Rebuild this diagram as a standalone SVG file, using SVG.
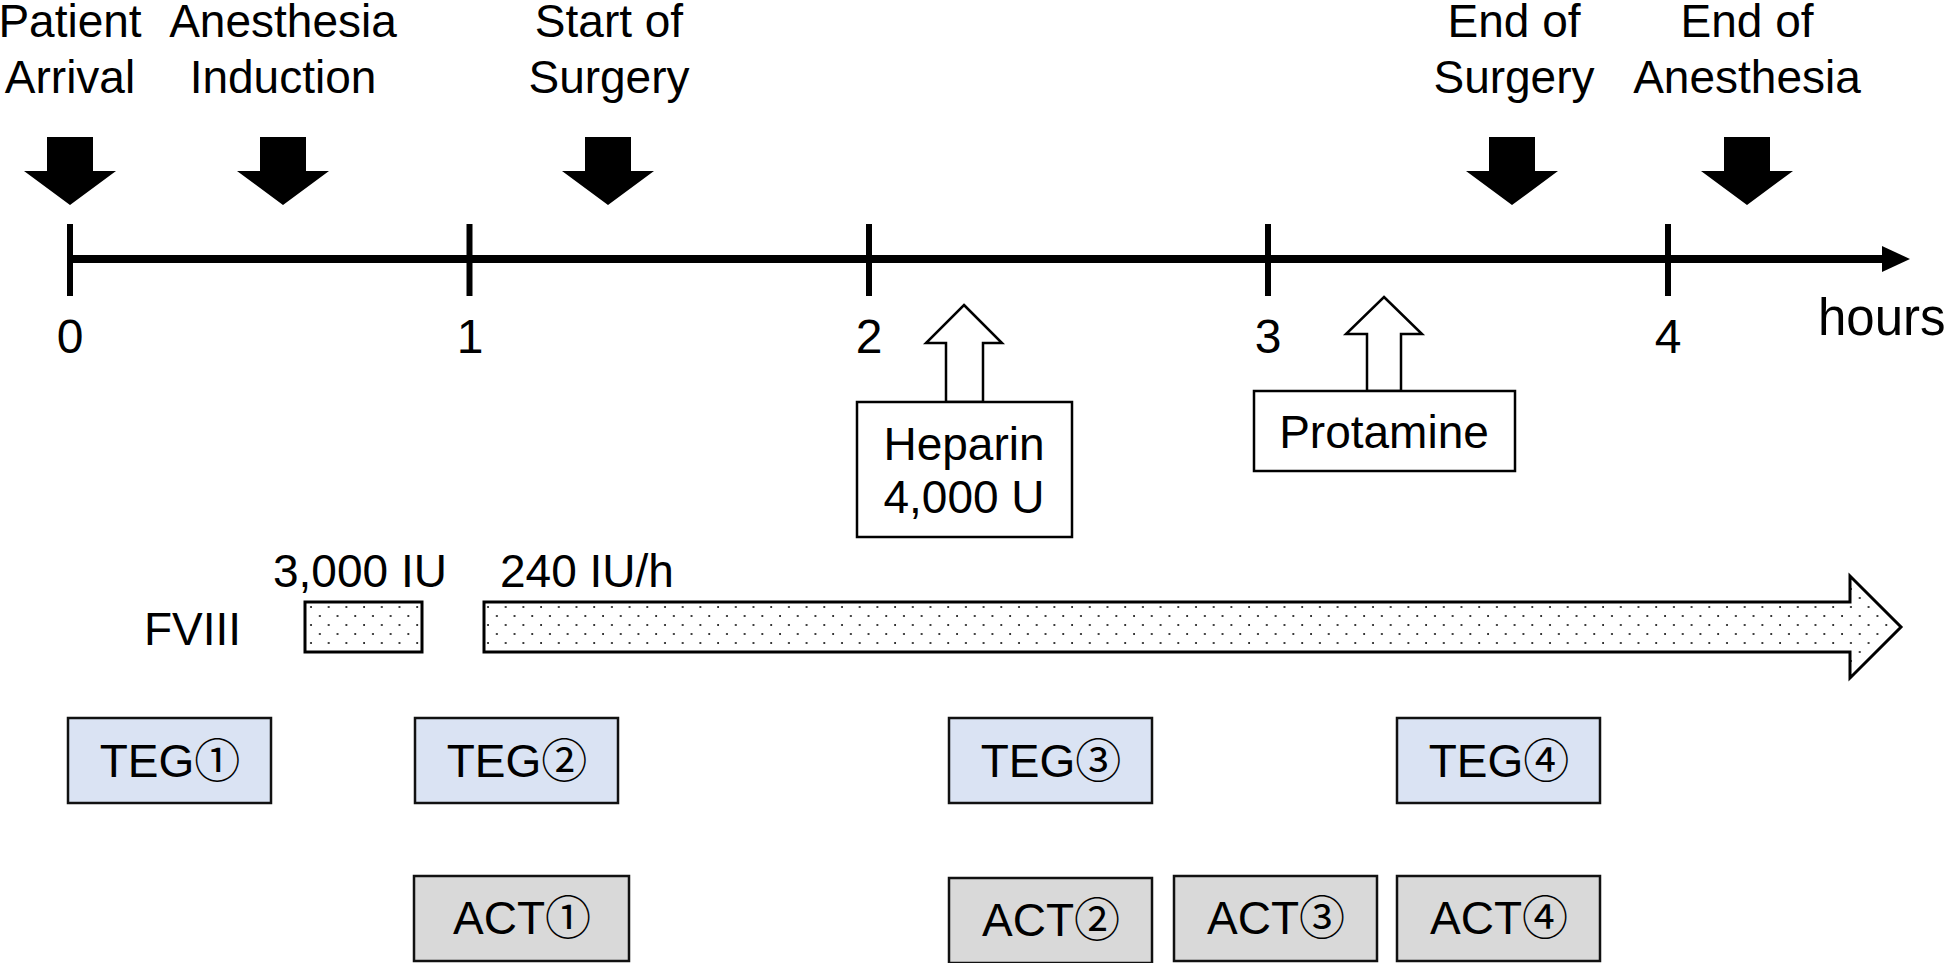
<svg xmlns="http://www.w3.org/2000/svg" width="1946" height="963" viewBox="0 0 1946 963">
<style>
text{font-family:"Liberation Sans",Arial,"Noto Sans CJK JP",sans-serif;fill:#000;font-size:46px}
.c{text-anchor:middle}
.tk{font-size:48px;text-anchor:middle}
.cj{font-family:"Noto Sans CJK JP","Noto Sans CJK SC",sans-serif}
.blk{fill:#000}
.open{fill:#fff;stroke:#000;stroke-width:2.5}
.box{fill:#fff;stroke:#000;stroke-width:2.5}
.teg{fill:#dae3f3;stroke:#111;stroke-width:2.5}
.act{fill:#d9d9d9;stroke:#111;stroke-width:2.5}
.dot{fill:url(#dots);stroke:#000;stroke-width:3}
</style>
<defs>
<pattern id="dots" patternUnits="userSpaceOnUse" x="484" y="602" width="17.7" height="18">
<rect width="17.7" height="18" fill="#fff"/>
<circle cx="4" cy="5" r="1" fill="#000"/>
<circle cx="12.85" cy="14" r="1" fill="#000"/>
</pattern>
<polygon id="darr" points="-23,137 23,137 23,171 46,171 0,205 -46,171 -23,171"/>
</defs>

<g id="timeline">
<line x1="70" y1="259" x2="1885" y2="259" stroke="#000" stroke-width="8"/>
<polygon points="1882,246 1910,259 1882,272" fill="#000"/>
<g stroke="#000" stroke-width="6">
<line x1="70" y1="224" x2="70" y2="296"/>
<line x1="469.5" y1="224" x2="469.5" y2="296"/>
<line x1="869" y1="224" x2="869" y2="296"/>
<line x1="1268" y1="224" x2="1268" y2="296"/>
<line x1="1668" y1="224" x2="1668" y2="296"/>
</g>
<text class="tk" x="70" y="353">0</text>
<text class="tk" x="470" y="353">1</text>
<text class="tk" x="869" y="353">2</text>
<text class="tk" x="1268" y="353">3</text>
<text class="tk" x="1668" y="353">4</text>
<text x="1818" y="335" style="font-size:51px">hours</text>
</g>

<g id="patient-arrival">
<text class="c" x="70" y="37">Patient</text>
<text class="c" x="70" y="93">Arrival</text>
<use href="#darr" x="70" class="blk"/>
</g>
<g id="anesthesia-induction">
<text class="c" x="283" y="37">Anesthesia</text>
<text class="c" x="283" y="93">Induction</text>
<use href="#darr" x="283" class="blk"/>
</g>
<g id="start-surgery">
<text class="c" x="609" y="37">Start of</text>
<text class="c" x="609" y="93">Surgery</text>
<use href="#darr" x="608" class="blk"/>
</g>
<g id="end-surgery">
<text class="c" x="1514" y="37">End of</text>
<text class="c" x="1514" y="93">Surgery</text>
<use href="#darr" x="1512" class="blk"/>
</g>
<g id="end-anesthesia">
<text class="c" x="1747" y="37">End of</text>
<text class="c" x="1747" y="93">Anesthesia</text>
<use href="#darr" x="1747" class="blk"/>
</g>

<g id="heparin">
<polygon class="open" points="964,305 1002,343 983,343 983,402 946,402 946,343 926,343"/>
<rect class="box" x="857" y="402" width="215" height="135"/>
<text class="c" x="964" y="460">Heparin</text>
<text class="c" x="964" y="513">4,000 U</text>
</g>
<g id="protamine">
<polygon class="open" points="1384,297 1422,334 1401,334 1401,391 1367,391 1367,334 1346,334"/>
<rect class="box" x="1254" y="391" width="261" height="80"/>
<text class="c" x="1384" y="448">Protamine</text>
</g>

<g id="fviii">
<text x="144" y="645">FVIII</text>
<text x="273" y="587">3,000 IU</text>
<text x="500" y="587">240 IU/h</text>
<rect class="dot" x="305" y="602" width="117" height="50"/>
<polygon class="dot" points="484,602 1850,602 1850,576 1901,627 1850,678 1850,652 484,652"/>
</g>

<g id="teg1"><rect class="teg" x="68" y="718" width="203" height="85"/><text class="c" x="170" y="777">TEG<tspan class="cj">①</tspan></text></g>
<g id="teg2"><rect class="teg" x="415" y="718" width="203" height="85"/><text class="c" x="517" y="777">TEG<tspan class="cj">②</tspan></text></g>
<g id="teg3"><rect class="teg" x="949" y="718" width="203" height="85"/><text class="c" x="1051" y="777">TEG<tspan class="cj">③</tspan></text></g>
<g id="teg4"><rect class="teg" x="1397" y="718" width="203" height="85"/><text class="c" x="1499" y="777">TEG<tspan class="cj">④</tspan></text></g>

<g id="act1"><rect class="act" x="414" y="876" width="215" height="85"/><text class="c" x="522" y="934">ACT<tspan class="cj">①</tspan></text></g>
<g id="act2"><rect class="act" x="949" y="878" width="203" height="85"/><text class="c" x="1051" y="936">ACT<tspan class="cj">②</tspan></text></g>
<g id="act3"><rect class="act" x="1174" y="876" width="203" height="85"/><text class="c" x="1276" y="934">ACT<tspan class="cj">③</tspan></text></g>
<g id="act4"><rect class="act" x="1397" y="876" width="203" height="85"/><text class="c" x="1499" y="934">ACT<tspan class="cj">④</tspan></text></g>
</svg>
